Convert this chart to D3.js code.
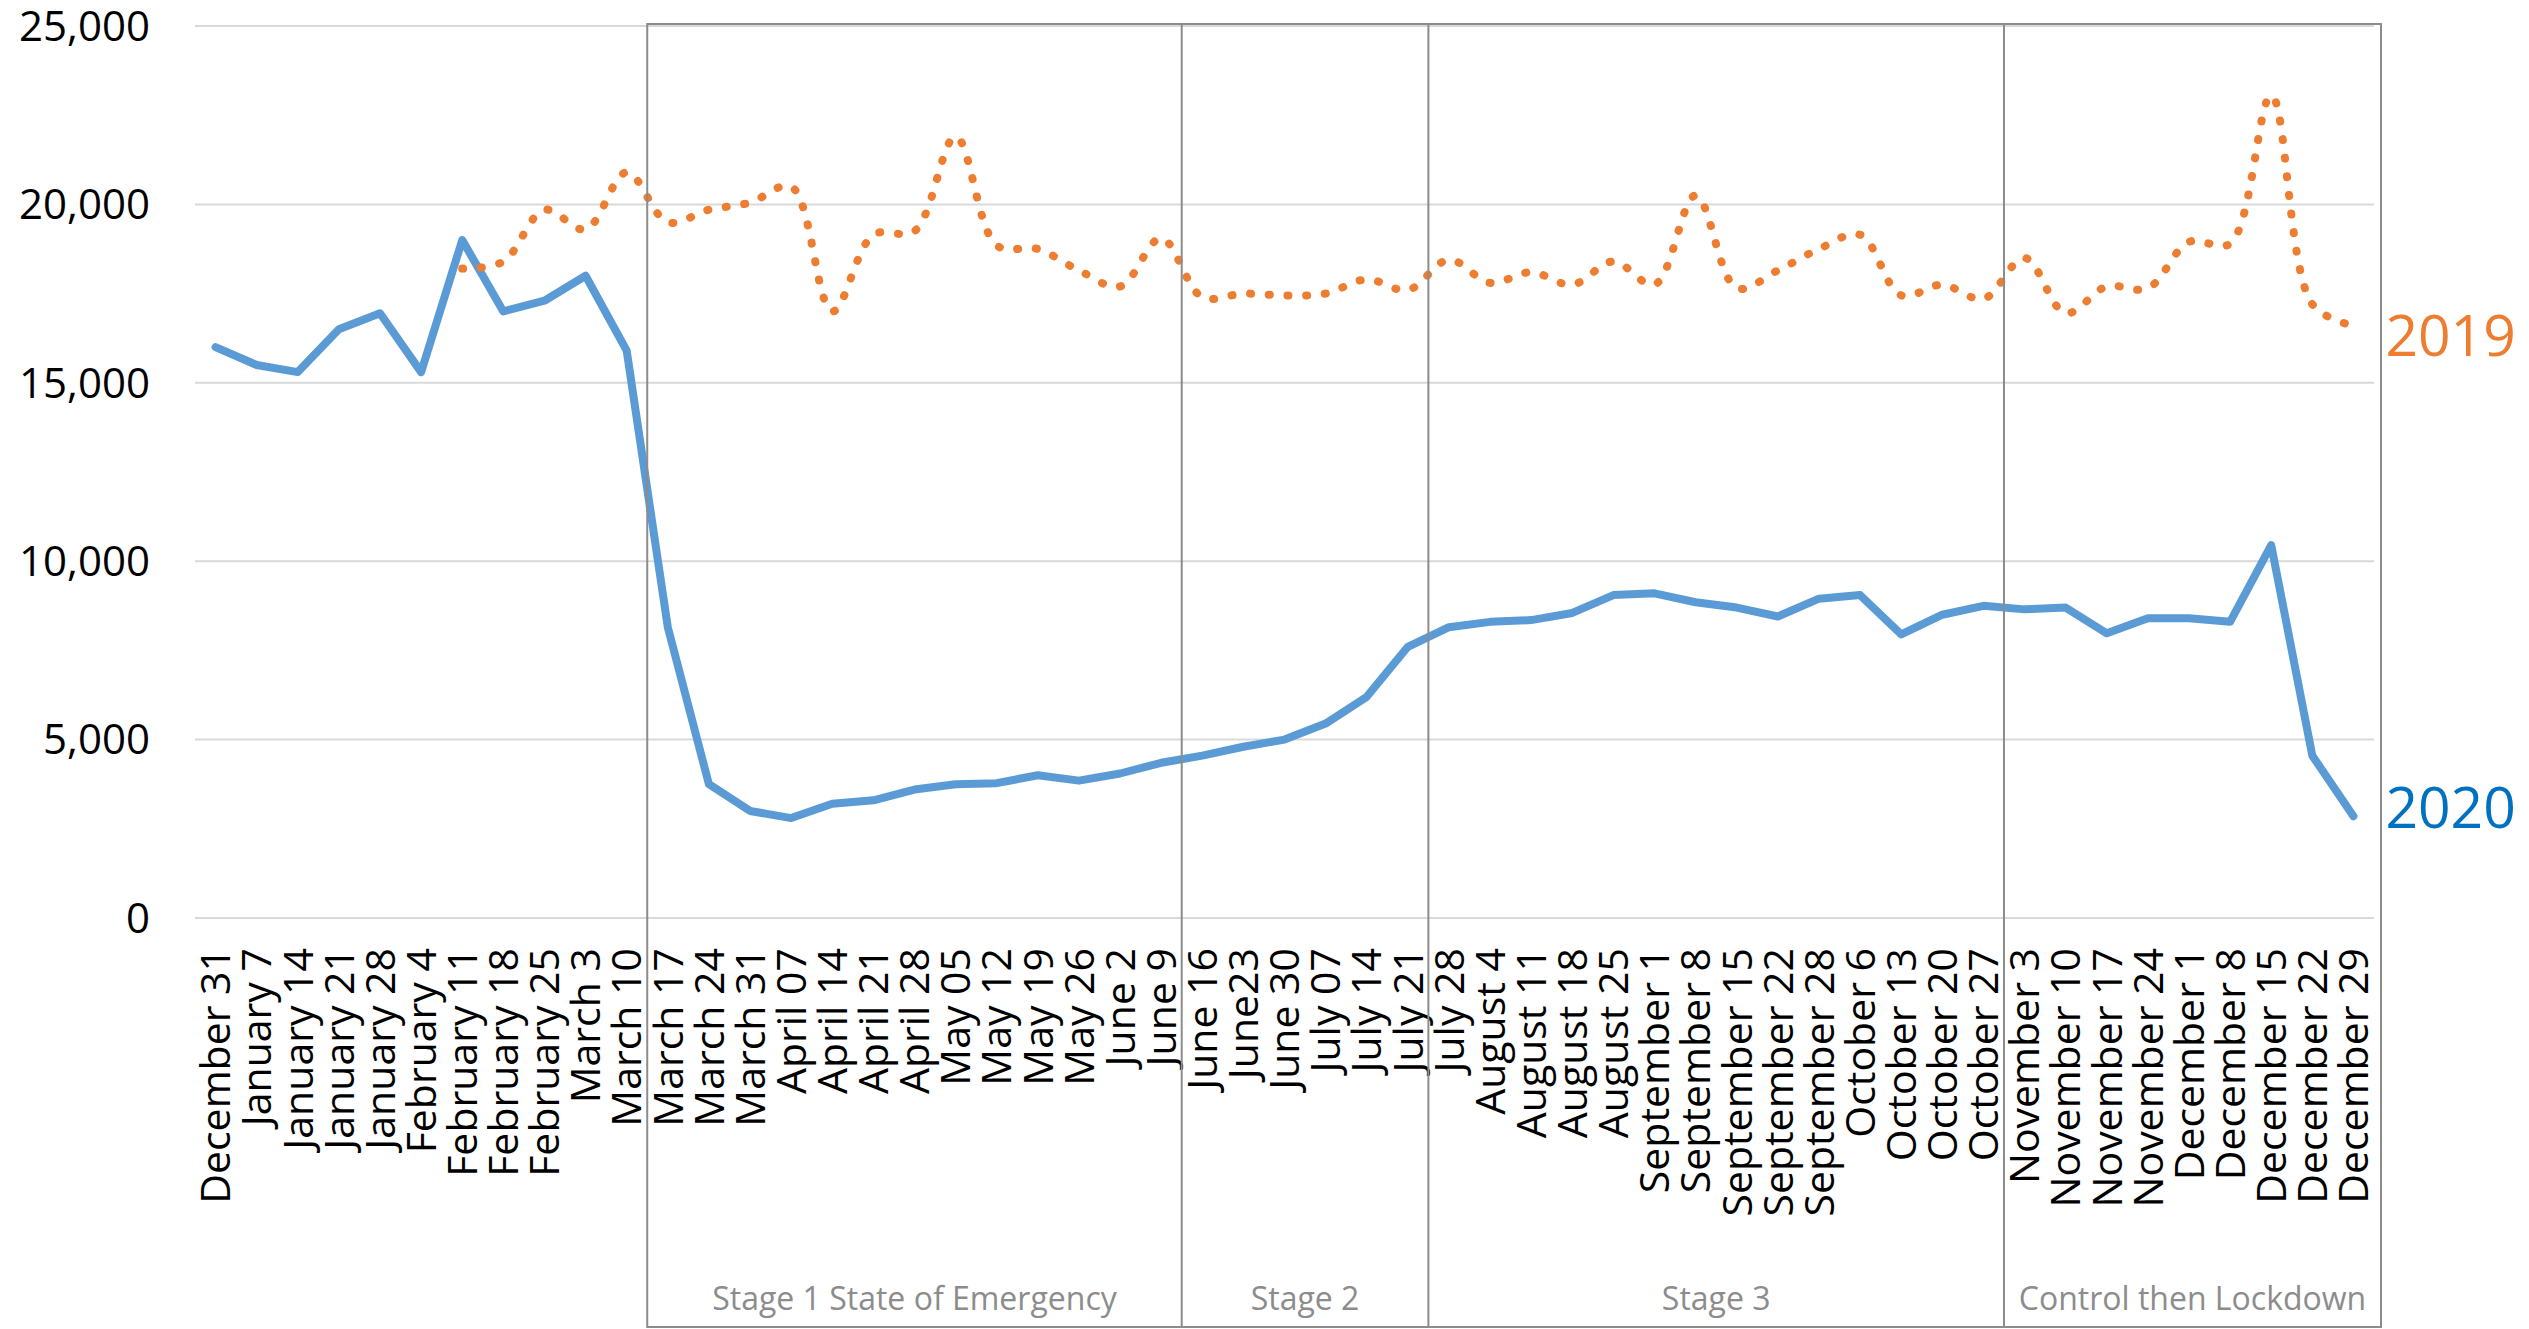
<!DOCTYPE html>
<html>
<head>
<meta charset="utf-8">
<script src="https://cdn.jsdelivr.net/npm/d3@7"></script>
<style>
    body { margin: 0; background: #fff; }
</style>
</head>
<body>
<script>
var weeks = ["December 31", "January 7", "January 14", "January 21", "January 28",
    "February 4", "February 11", "February 18", "February 25", "March 3", "March 10",
    "March 17", "March 24", "March 31", "April 07", "April 14", "April 21", "April 28",
    "May 05", "May 12", "May 19", "May 26", "June 2", "June 9", "June 16", "June23",
    "June 30", "July 07", "July 14", "July 21", "July 28", "August 4", "August 11",
    "August 18", "August 25", "September 1", "September 8", "September 15",
    "September 22", "September 28", "October 6", "October 13", "October 20",
    "October 27", "November 3", "November 10", "November 17", "November 24",
    "December 1", "December 8", "December 15", "December 22", "December 29"];

var cases2020 = [16000, 15500, 15300, 16500, 16950, 15300, 19000, 17000, 17300, 18000,
    15900, 8150, 3750, 3000, 2800, 3200, 3300, 3600, 3750, 3780, 4000, 3850, 4050, 4350,
    4550, 4800, 5000, 5450, 6200, 7600, 8150, 8300, 8350, 8550, 9050, 9100, 8850, 8700,
    8450, 8950, 9050, 7950, 8500, 8750, 8650, 8700, 7980, 8400, 8400, 8300, 10450, 4550,
    2850];

var cases2019 = [null, null, null, null, null, null, 18200, 18400, 19850, 19300, 20900,
    19500, 19850, 20050, 20500, 17000, 19150, 19250, 21900, 18850, 18750, 18150, 17700,
    19050, 17400, 17500, 17450, 17500, 17900, 17600, 18450, 17800, 18100, 17750, 18400,
    17750, 20250, 17650, 18150, 18750, 19150, 17450, 17750, 17350, 18500, 16950, 17700,
    17650, 18950, 18900, 23050, 17200, 16600];

var yTicks = [0, 5000, 10000, 15000, 20000, 25000];

var stageNames = ["Stage 1 State of Emergency", "Stage 2", "Stage 3", "Control then Lockdown"];
var stageStart = ["March 17", "June 16", "July 28", "November 3"];

buildIt();

function buildIt() {
    var w = 2529;
    var h = 1329;
    var plotLeft = 195, plotRight = 2374, plotTop = 26, plotBottom = 918;
    var font = "'Open Sans', sans-serif";

    var svg = d3.select("body")
        .append("svg")
        .attr("width", w)
        .attr("height", h);

    var xScale = d3.scaleBand()
        .domain(weeks)
        .range([plotLeft, plotRight]);

    var yScale = d3.scaleLinear()
        .domain([0, 25000])
        .range([plotBottom, plotTop]);

    function cx(i) {
        return xScale(weeks[i]) + xScale.bandwidth() / 2;
    }

    // gridlines
    svg.append("g")
        .selectAll("line")
        .data(yTicks)
        .enter()
        .append("line")
        .attr("x1", plotLeft)
        .attr("x2", plotRight)
        .attr("y1", function(d) { return yScale(d); })
        .attr("y2", function(d) { return yScale(d); })
        .attr("stroke", "#d9d9d9")
        .attr("stroke-width", 2);

    // y axis
    var yAxis = d3.axisLeft(yScale)
        .tickValues(yTicks)
        .tickSize(0)
        .tickPadding(45)
        .tickFormat(d3.format(","));

    svg.append("g")
        .attr("transform", "translate(" + plotLeft + ",0)")
        .call(yAxis)
        .call(function(g) { g.select(".domain").remove(); })
        .selectAll("text")
        .attr("font-family", font)
        .attr("font-size", "42px")
        .attr("dy", "0.34em")
        .attr("fill", "#000");

    // x axis labels, rotated
    var xAxis = d3.axisBottom(xScale)
        .tickSize(0)
        .tickPadding(0);

    svg.append("g")
        .attr("transform", "translate(0," + plotBottom + ")")
        .call(xAxis)
        .call(function(g) { g.select(".domain").remove(); })
        .selectAll("text")
        .attr("font-family", font)
        .attr("font-size", "41px")
        .attr("fill", "#000")
        .attr("text-anchor", "end")
        .attr("transform", "rotate(-90)")
        .attr("x", -30)
        .attr("y", 0)
        .attr("dy", "0.36em");

    // 2020 line
    var line = d3.line()
        .x(function(d, i) { return cx(i); })
        .y(function(d) { return yScale(d); });

    svg.append("path")
        .datum(cases2020)
        .attr("d", line)
        .attr("fill", "none")
        .attr("stroke", "#5b9bd5")
        .attr("stroke-width", 8)
        .attr("stroke-linejoin", "round")
        .attr("stroke-linecap", "round");

    // 2019 line, smoothed and dotted
    var line19 = d3.line()
        .defined(function(d) { return d != null; })
        .x(function(d, i) { return cx(i); })
        .y(function(d) { return yScale(d); })
        .curve(d3.curveCatmullRom);

    svg.append("path")
        .datum(cases2019)
        .attr("d", line19)
        .attr("fill", "none")
        .attr("stroke", "#ed7d31")
        .attr("stroke-width", 8)
        .attr("stroke-dasharray", "1 17.7")
        .attr("stroke-linecap", "round");

    // series labels
    var last = weeks.length - 1;
    svg.append("text")
        .text("2019")
        .attr("x", cx(last) + 32)
        .attr("y", yScale(cases2019[last]) + 10)
        .attr("dy", "0.36em")
        .attr("font-family", font)
        .attr("font-size", "57px")
        .attr("fill", "#ed7d31");

    svg.append("text")
        .text("2020")
        .attr("x", cx(last) + 32)
        .attr("y", yScale(cases2020[last]) - 9)
        .attr("dy", "0.36em")
        .attr("font-family", font)
        .attr("font-size", "57px")
        .attr("fill", "#0070c0");

    // stage boxes
    var boxTop = 24, boxBottom = 1327, boxRight = plotRight + 7;
    var edges = stageStart.map(function(s) { return xScale(s); });
    edges.push(boxRight);

    var stages = svg.append("g");

    stages.append("rect")
        .attr("x", edges[0])
        .attr("y", boxTop)
        .attr("width", boxRight - edges[0])
        .attr("height", boxBottom - boxTop)
        .attr("fill", "none")
        .attr("stroke", "#8c8c8c")
        .attr("stroke-width", 2);

    stages.selectAll("line")
        .data(edges.slice(1, -1))
        .enter()
        .append("line")
        .attr("x1", function(d) { return d; })
        .attr("x2", function(d) { return d; })
        .attr("y1", boxTop)
        .attr("y2", boxBottom)
        .attr("stroke", "#8c8c8c")
        .attr("stroke-width", 2);

    stages.selectAll("text")
        .data(stageNames)
        .enter()
        .append("text")
        .text(function(d) { return d; })
        .attr("x", function(d, i) { return (edges[i] + edges[i + 1]) / 2; })
        .attr("y", 1310)
        .attr("text-anchor", "middle")
        .attr("font-family", font)
        .attr("font-size", "32px")
        .attr("fill", "#8c8c8c");
}
</script>
</body>
</html>
